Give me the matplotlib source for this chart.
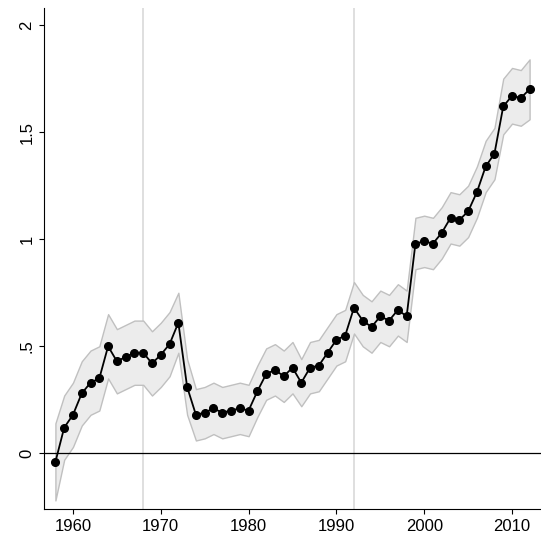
import matplotlib
matplotlib.use("Agg")
import matplotlib.pyplot as plt
import numpy as np

plt.rcParams['font.family'] = ['Liberation Sans', 'DejaVu Sans']

years = list(range(1958, 2013))
est = [-0.04, 0.12, 0.18, 0.28, 0.33, 0.35, 0.50, 0.43, 0.45, 0.47, 0.47, 0.42, 0.46, 0.51, 0.61,
       0.31, 0.18, 0.19, 0.21, 0.19, 0.20, 0.21, 0.20, 0.29, 0.37, 0.39, 0.36, 0.40, 0.33, 0.40,
       0.41, 0.47, 0.53, 0.55, 0.68, 0.62, 0.59, 0.64, 0.62, 0.67, 0.64, 0.98, 0.99, 0.98, 1.03,
       1.10, 1.09, 1.13, 1.22, 1.34, 1.40, 1.62, 1.67, 1.66, 1.70]
halfw = [0.18, 0.15, 0.15, 0.15, 0.15, 0.15, 0.15, 0.15, 0.15, 0.15, 0.15, 0.15, 0.15, 0.15, 0.14,
         0.13, 0.12, 0.12, 0.12, 0.12, 0.12, 0.12, 0.12, 0.12, 0.12, 0.12, 0.12, 0.12, 0.11, 0.12,
         0.12, 0.12, 0.12, 0.12, 0.12, 0.12, 0.12, 0.12, 0.12, 0.12, 0.12, 0.12, 0.12, 0.12, 0.12,
         0.12, 0.12, 0.12, 0.12, 0.12, 0.12, 0.13, 0.13, 0.13, 0.14]
vlines = [1968, 1992]

lo = np.array(est) - np.array(halfw)
hi = np.array(est) + np.array(halfw)

fig = plt.figure(figsize=(5.41, 5.38), dpi=100)
ax = fig.add_axes([44/541, 1-509/538, 1-44/541, 501/538])
ax.fill_between(years, lo, hi, facecolor="#ececec", edgecolor="#c0c0c0", lw=1.0, zorder=1)
for v in vlines:
    ax.axvline(v, color="#d9d9d9", lw=1.2, zorder=0)
ax.axhline(0, color="black", lw=0.9, zorder=2)
ax.plot(years, est, color="black", lw=1.3, marker="o", ms=5.5, zorder=3)
ax.set_xlim(1956.7, 2013.3)
ax.set_ylim(-0.26, 2.08)
ax.set_xticks([1960, 1970, 1980, 1990, 2000, 2010])
ax.set_yticks([0, 0.5, 1, 1.5, 2])
ax.set_yticklabels(["0", ".5", "1", "1.5", "2"], rotation=90, va="center")
ax.tick_params(labelsize=12, color="black")
for s in ["top", "right"]:
    ax.spines[s].set_visible(False)
fig.savefig("out.png", dpi=100)
